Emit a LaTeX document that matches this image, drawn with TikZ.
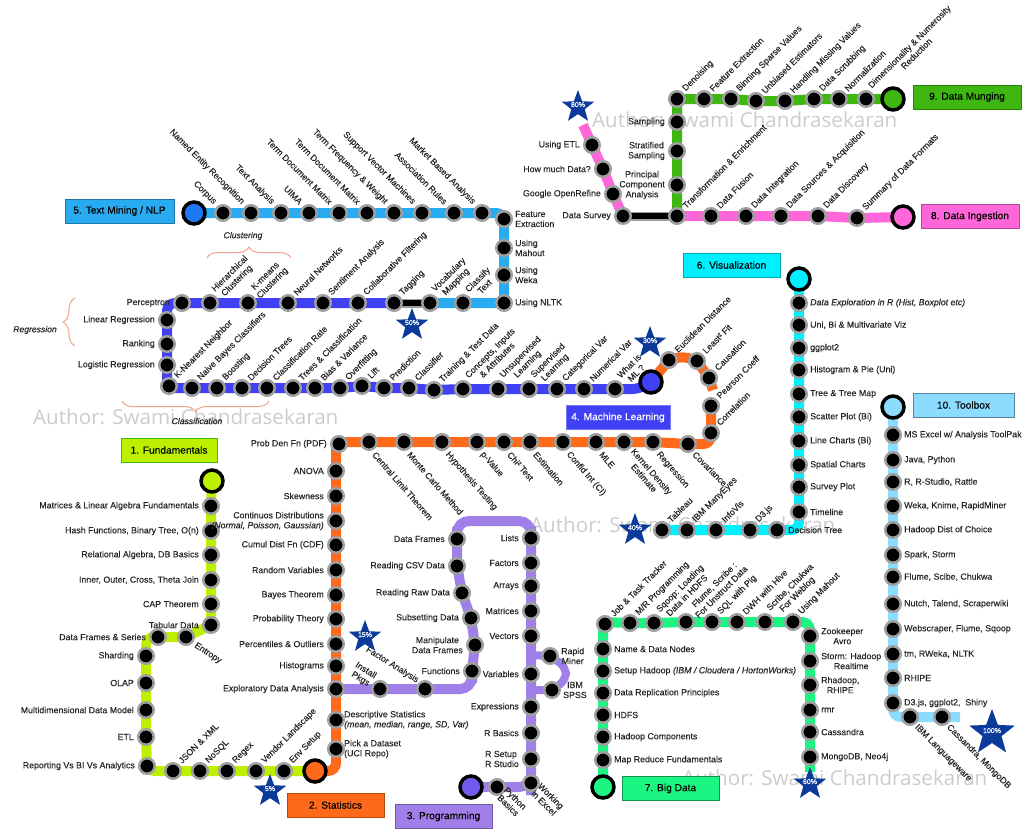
\documentclass[tikz,border=0pt]{standalone}
\usepackage{fontspec}
\setmainfont{Liberation Sans}
\newfontfamily\labfont[FakeBold=0.25]{Liberation Sans}
\newfontfamily\wmfont{Open Sans}
\usetikzlibrary{backgrounds,decorations.pathreplacing,shapes.geometric}

\definecolor{cFund}{HTML}{BDF000}
\definecolor{cStat}{HTML}{FF6A1A}
\definecolor{cProg}{HTML}{A080E8}
\definecolor{cMach}{HTML}{4040F5}
\definecolor{cText}{HTML}{29ABF2}
\definecolor{cViz}{HTML}{00F0FF}
\definecolor{cBig}{HTML}{1CF582}
\definecolor{cIng}{HTML}{FF66D9}
\definecolor{cMung}{HTML}{3FB711}
\definecolor{cTool}{HTML}{8CDCFF}
\definecolor{cBrace}{HTML}{F2A58C}
\definecolor{cStar}{HTML}{0B3A9A}

\tikzset{
  stn/.style={circle,fill=black,draw=gray!75,line width=2.5pt,minimum size=15.5pt,inner sep=0pt},
  term/.style={circle,draw=black,line width=3.5pt,minimum size=22pt,inner sep=0pt},
  metro/.style={line width=10pt,rounded corners=8pt},
  blackseg/.style={draw=black,line width=6pt,preaction={draw=gray!75,line width=9pt}},
  lab/.style={font=\labfont\fontsize{8.8}{10}\selectfont,text=black!85,inner sep=0pt},
  lblL/.style={lab,shift={(-12pt,0pt)},anchor=east,align=right},
  lblLc/.style={lab,shift={(-12pt,0pt)},anchor=east,align=center},
  lblLl/.style={lab,shift={(-12pt,0pt)},anchor=east,align=left},
  lblR/.style={lab,shift={(11pt,0pt)},anchor=west,align=left},
  lblRc/.style={lab,shift={(11pt,0pt)},anchor=west,align=center},
  lblRt/.style={lab,shift={(8pt,0pt)},anchor=west,align=left},
  upR/.style={lab,shift={(7pt,9pt)},rotate=45,anchor=west,align=center},
  upL/.style={lab,shift={(-8pt,10pt)},rotate=-45,anchor=east,align=center},
  upLs/.style={lab,shift={(-7pt,8pt)},rotate=-32,anchor=east,align=center},
  dnR/.style={lab,shift={(6pt,-9pt)},rotate=-45,anchor=west,align=center},
  dnRm/.style={lab,shift={(5pt,-5pt)},rotate=-45,anchor=west,align=center},
  dnRs/.style={lab,shift={(5pt,-11pt)},rotate=-49,anchor=west,align=center},
  dnRf/.style={lab,shift={(9pt,-8pt)},rotate=-33,anchor=west,align=center},
  stbox/.style={draw,line width=1pt,minimum height=24pt,inner sep=0pt,font=\labfont\fontsize{10.2}{12}\selectfont},
  pct/.style={star,star points=5,star point ratio=2.4,fill=cStar,inner sep=0pt,minimum size=34pt,text=white,font=\labfont\fontsize{7}{8}\selectfont},
  brc/.style={draw=cBrace,line width=1pt,decorate},
  note/.style={lab,font=\labfont\fontsize{8.6}{10}\selectfont\itshape}
}

\begin{document}
\begin{tikzpicture}[x=1pt,y=-1pt]
	\useasboundingbox (0,0) rectangle (1024,831);
	
	% End stations
	\node[term,fill=cFund] (fundT) at (212,481) {};
	\node[term,fill=cStat] (statT) at (315,771) {};
	\node[term,fill=cProg!70!blue] (progT) at (471,787) {};
	\node[term,fill=cMach] (machT) at (651,382) {};
	\node[term,fill=cText!70!blue] (textT) at (194,213) {};
	\node[term,fill=cViz] (vizT) at (799,279) {};
	\node[term,fill=cBig] (bigT) at (603,787) {};
	\node[term,fill=cIng] (ingT) at (903,217) {};
	\node[term,fill=cMung] (mungT) at (893,99) {};
	\node[term,fill=cTool] (toolT) at (893,407) {};
	
	% Line 1
	\foreach \px/\py/\sty/\txt [count=\i] in {
		211/506/lblL/{Matrices \& Linear Algebra Fundamentals},
		211/531/lblL/{Hash Functions, Binary Tree, O(n)},
		211/555/lblL/{Relational Algebra, DB Basics},
		211/580/lblL/{Inner, Outer, Cross, Theta Join},
		211/604/lblL/{CAP Theorem},
		211/625/lblL/{Tabular Data},
		186/637/dnRf/{Entropy},
		158/637/lblL/{Data Frames \& Series},
		146/656/lblL/{Sharding},
		146/683/lblL/{OLAP},
		146/710/lblL/{Multidimensional Data Model},
		146/737/lblL/{ETL},
		147/766/lblL/{Reporting Vs BI Vs Analytics},
		173/771/upR/{JSON \& XML},
		200/771/upR/{NoSQL},
		227/771/upR/{Regex},
		256/771/upR/{Vendor Landscape},
		284/771/upR/{Env Setup}} {
		\node[stn] (fund\i) at (\px,\py) {};
		\node[\sty] (fundl\i) at (fund\i) {\txt};
	}
	
	% Line 2
	\foreach \px/\py/\sty/\txt [count=\i] in {
		336/749/lblRt/{Pick a Dataset\\(UCI Repo)},
		336/720/lblRt/{Descriptive Statistics\\\textit{(mean, median, range, SD, Var)}},
		336/689/lblL/{Exploratory Data Analysis},
		336/666/lblL/{Histograms},
		336/644/lblL/{Percentiles \& Outliers},
		336/619/lblL/{Probability Theory},
		336/595/lblL/{Bayes Theorem},
		336/570/lblL/{Random Variables},
		336/545/lblL/{Cumul Dist Fn (CDF)},
		336/521/lblL/{Continuos Distributions\\\textit{(Normal, Poisson, Gaussian)}},
		336/496/lblL/{Skewness},
		336/471/lblL/{ANOVA},
		339/444/lblL/{Prob Den Fn (PDF)},
		369/442/dnRs/{Central Limit Theorem},
		404/442/dnRs/{Monte Carlo Method},
		442/442/dnRs/{Hypothesis Testing},
		477/442/dnRs/{p-Value},
		504/442/dnRs/{Chi² Test},
		530/442/dnRs/{Estimation},
		563/442/dnRs/{Confid Int (CI)},
		596/442/dnRs/{MLE},
		624/442/dnRs/{Kernel Density\\Estimate},
		653/442/dnRs/{Regression},
		688/444/dnR/{Covariance},
		711/433/upR/{Correlation},
		711/406/upR/{Pearson Coeff},
		709/378/upR/{Causation},
		697/361/upR/{Least² Fit},
		669/360/upR/{Euclidean Distance}} {
		\node[stn] (stat\i) at (\px,\py) {};
		\node[\sty] (statl\i) at (stat\i) {\txt};
	}
	
	% Line 3
	\foreach \px/\py/\sty/\txt [count=\i] in {
		497/787/dnRm/{Python\\Basics},
		531/783/dnRm/{Working\\in Excel},
		531/759/lblLl/{R Setup\\R Studio},
		531/733/lblL/{R Basics},
		531/707/lblL/{Expressions},
		531/674/lblL/{Variables},
		531/636/lblL/{Vectors},
		531/611/lblL/{Matrices},
		531/586/lblL/{Arrays},
		531/563/lblL/{Factors},
		531/538/lblL/{Lists},
		457/539/lblL/{Data Frames},
		457/566/lblL/{Reading CSV Data},
		462/593/lblL/{Reading Raw Data},
		471/618/lblL/{Subsetting Data},
		475/645/lblLc/{Manipulate\\Data Frames},
		472/671/lblL/{Functions},
		425/689/upLs/{Factor Analysis},
		380/689/upLs/{Install\\Pkgs},
		550/656/lblRc/{Rapid\\Miner},
		552/690/lblRc/{IBM\\SPSS}} {
		\node[stn] (prog\i) at (\px,\py) {};
		\node[\sty] (progl\i) at (prog\i) {\txt};
	}
	
	% Line 5
	\foreach \px/\py/\sty/\txt [count=\i] in {
		223/213/upL/{Corpus},
		251/213/upL/{Named Entity Recognition},
		281/213/upL/{Text Analysis},
		309/213/upL/{UIMA},
		339/213/upL/{Term Document Matrix},
		367/213/upL/{Term Document Matrix},
		394/213/upL/{Term Frequency \& Weight},
		422/213/upL/{Support Vector Machines},
		454/213/upL/{Association Rules},
		482/213/upL/{Market Based Analysis},
		504/219/lblR/{Feature\\Extraction},
		504/248/lblR/{Using\\Mahout},
		504/275/lblR/{Using\\Weka},
		504/303/lblR/{Using NLTK},
		463/303/upR/{Classify\\Text},
		430/303/upR/{Vocabulary\\Mapping}} {
		\node[stn] (text\i) at (\px,\py) {};
		\node[\sty] (textl\i) at (text\i) {\txt};
	}
	
	% Line 4
	\foreach \px/\py/\sty/\txt [count=\i] in {
		394/303/upR/{Tagging},
		358/303/upR/{Collaborative Filtering},
		323/303/upR/{Sentiment Analysis},
		288/303/upR/{Neural Networks},
		248/303/upR/{K-means\\Clustering},
		210/303/upR/{Hierarchical\\Clustering},
		182/303/lblL/{Perceptron},
		167/320/lblL/{Linear Regression},
		167/344/lblL/{Ranking},
		167/365/lblL/{Logistic Regression},
		169/386/upR/{K-Nearest Neighbor},
		192/388/upR/{Naive Bayes Classifiers},
		217/388/upR/{Boosting},
		242/388/upR/{Decision Trees},
		267/388/upR/{Classification Rate},
		293/388/upR/{Trees \& Classification},
		315/388/upR/{Bias \& Variance},
		340/388/upR/{Overfitting},
		362/386/upR/{Lift},
		384/388/upR/{Prediction},
		409/388/upR/{Classifier},
		434/390/upR/{Training \& Test Data},
		463/389/upR/{Concepts, Inputs\\\& Attributes},
		498/389/upR/{Unsupervised\\Learning},
		529/389/upR/{Supervised\\Learning},
		557/389/upR/{Categorical Var},
		584/389/upR/{Numerical Var},
		615/389/upR/{What is\\ML ?}} {
		\node[stn] (mach\i) at (\px,\py) {};
		\node[\sty] (machl\i) at (mach\i) {\txt};
	}
	
	% Line 6
	\foreach \px/\py/\sty/\txt [count=\i] in {
		799/303/lblR/{\textit{Data Exploration in R (Hist, Boxplot etc)}},
		799/325/lblR/{Uni, Bi \& Multivariate Viz},
		799/348/lblR/{ggplot2},
		799/370/lblR/{Histogram \& Pie (Uni)},
		799/394/lblR/{Tree \& Tree Map},
		799/417/lblR/{Scatter Plot (Bi)},
		799/441/lblR/{Line Charts (Bi)},
		799/465/lblR/{Spatial Charts},
		799/487/lblR/{Survey Plot},
		799/512/lblR/{Timeline},
		777/530/lblR/{Decision Tree},
		750/530/upR/{D3.js},
		716/530/upR/{InfoVis},
		687/530/upR/{IBM ManyEyes},
		662/530/upR/{Tableau}} {
		\node[stn] (viz\i) at (\px,\py) {};
		\node[\sty] (vizl\i) at (viz\i) {\txt};
	}
	
	% Line 7
	\foreach \px/\py/\sty/\txt [count=\i] in {
		603/760/lblR/{Map Reduce Fundamentals},
		603/737/lblR/{Hadoop Components},
		603/715/lblR/{HDFS},
		603/693/lblR/{Data Replication Principles},
		603/671/lblR/{Setup Hadoop \textit{(IBM / Cloudera / HortonWorks)}},
		603/649/lblR/{Name \& Data Nodes},
		605/624/upR/{Job \& Task Tracker},
		630/623/upR/{M/R Programming},
		654/623/upR/{Sqoop: Loading\\Data in HDFS},
		686/622/upR/{Flume, Scribe :\\For Unstruct Data},
		712/622/upR/{SQL with Pig},
		737/622/upR/{DWH with Hive},
		765/622/upR/{Scribe, Chukwa\\For Weblog},
		793/622/upR/{Using Mahout},
		810/636/lblRc/{Zookeeper\\Avro},
		810/661/lblRc/{Storm: Hadoop\\Realtime},
		810/685/lblRc/{Rhadoop,\\RHIPE},
		810/710/lblR/{rmr},
		810/732/lblR/{Cassandra},
		810/757/lblR/{MongoDB, Neo4j}} {
		\node[stn] (big\i) at (\px,\py) {};
		\node[\sty] (bigl\i) at (big\i) {\txt};
	}
	
	% Line 8
	\foreach \px/\py/\sty/\txt [count=\i] in {
		592/145/lblL/{Using ETL},
		603/169/lblL/{How much Data?},
		613/194/lblL/{Google OpenRefine},
		623/216/lblL/{Data Survey},
		677/216/upR/{Transformation \& Enrichment},
		711/216/upR/{Data Fusion},
		746/216/upR/{Data Integration},
		781/216/upR/{Data Sources \& Acquisition},
		818/216/upR/{Data Discovery},
		857/218/upR/{Summary of Data Formats}} {
		\node[stn] (ing\i) at (\px,\py) {};
		\node[\sty] (ingl\i) at (ing\i) {\txt};
	}
	
	% Line 9
	\foreach \px/\py/\sty/\txt [count=\i] in {
		677/185/lblLc/{Principal\\Component\\Analysis},
		677/151/lblLc/{Stratified\\Sampling},
		677/122/lblL/{Sampling},
		677/99/upR/{Denoising},
		704/99/upR/{Feature Extraction},
		731/99/upR/{Binning Sparse Values},
		756/101/upR/{Unbiased Estimators},
		785/101/upR/{Handling Missing Values},
		814/99/upR/{Data Scrubbing},
		839/99/upR/{Normalization},
		866/99/upR/{Dimensionality \& Numerosity\\Reduction}} {
		\node[stn] (mung\i) at (\px,\py) {};
		\node[\sty] (mungl\i) at (mung\i) {\txt};
	}
	
	% Line 10
	\foreach \px/\py/\sty/\txt [count=\i] in {
		893/435/lblR/{MS Excel w/ Analysis ToolPak},
		893/460/lblR/{Java, Python},
		893/482/lblR/{R, R-Studio, Rattle},
		893/506/lblR/{Weka, Knime, RapidMiner},
		893/530/lblR/{Hadoop Dist of Choice},
		893/555/lblR/{Spark, Storm},
		893/577/lblR/{Flume, Scibe, Chukwa},
		893/604/lblR/{Nutch, Talend, Scraperwiki},
		893/629/lblR/{Webscraper, Flume, Sqoop},
		893/654/lblR/{tm, RWeka, NLTK},
		893/678/lblR/{RHIPE},
		893/703/lblR/{D3.js, ggplot2,~~Shiny},
		910/717/dnR/{IBM Languageware},
		942/717/dnR/{Cassandra, MongoDB}} {
		\node[stn] (tool\i) at (\px,\py) {};
		\node[\sty] (tooll\i) at (tool\i) {\txt};
	}
	
	% Corners and free ends of the lines
	\coordinate (fundA) at (146,637);
	\coordinate (fundB) at (147,771);
	\coordinate (statA) at (336,771);
	\coordinate (statB) at (336,442);
	\coordinate (statC) at (711,444);
	\coordinate (statD) at (713,390);
	\coordinate (statE) at (683,356);
	\coordinate (progA) at (531,787);
	\coordinate (progB) at (531,521);
	\coordinate (progC) at (457,521);
	\coordinate (progD) at (472,689);
	\coordinate (progE) at (531,655);
	\coordinate (progF) at (566,667);
	\coordinate (progG) at (566,680);
	\coordinate (progH) at (531,690);
	\coordinate (textA) at (504,213);
	\coordinate (machA) at (167,303);
	\coordinate (machB) at (167,388);
	\coordinate (machC) at (640,389);
	\coordinate (vizA) at (799,530);
	\coordinate (bigA) at (603,622);
	\coordinate (bigB) at (810,622);
	\coordinate (bigC) at (810,772);
	\coordinate (ingA) at (583,125);
	\coordinate (toolA) at (893,717);
	\coordinate (toolB) at (960,717);
	
	\begin{scope}[on background layer]
		% Watermarks
		\foreach \px/\py [count=\i] in {592/120,33/417,530/525,682/778} {
			\node[anchor=west,inner sep=0pt,text=black!20,font=\wmfont\fontsize{20.6}{22}\selectfont] (mark\i) at (\px,\py) {Author: Swami Chandrasekaran};
		}
		
		% Lines
		\draw[metro,cFund] (fundT.center) foreach \i in {1,...,8} { -- (fund\i.center) } -- (fundA) foreach \i in {9,...,13} { -- (fund\i.center) } -- (fundB) foreach \i in {14,...,18} { -- (fund\i.center) } -- (statT.center);
		\draw[metro,cStat] (statT.center) -- (statA) foreach \i in {1,...,12} { -- (stat\i.center) } -- (statB) foreach \i in {14,...,24} { -- (stat\i.center) } -- (statC) -- (stat25.center) -- (stat26.center);
		\draw[metro,cStat] (machT.center) -- (stat29.center) -- (statE) -- (stat28.center) -- (stat27.center) -- (statD);
		\draw[metro,cProg,rounded corners=12pt] (progT.center) -- (prog1.center) -- (progA) foreach \i in {2,...,11} { -- (prog\i.center) } -- (progB) -- (progC) -- (prog12.center) -- (prog13.center) -- (prog14.center) -- (prog15.center) -- (prog16.center) -- (prog17.center) -- (progD) -- (prog18.center) -- (prog19.center) -- (stat3.center);
		\draw[metro,cProg,line width=8pt] (progE) -- (prog20.center) -- (progF) -- (progG) -- (prog21.center) -- (progH);
		\draw[metro,cText] (textT.center) foreach \i in {1,...,10} { -- (text\i.center) } -- (textA) foreach \i in {11,...,16} { -- (text\i.center) };
		\draw[blackseg] (text16.center) -- (mach1.center);
		\draw[metro,cMach] (mach1.center) foreach \i in {2,...,7} { -- (mach\i.center) } -- (machA) foreach \i in {8,9,10} { -- (mach\i.center) } -- (machB) foreach \i in {12,...,28} { -- (mach\i.center) } -- (machC) -- (machT.center);
		\draw[metro,cViz] (vizT.center) foreach \i in {1,...,10} { -- (viz\i.center) } -- (vizA) foreach \i in {11,...,15} { -- (viz\i.center) };
		\draw[metro,cBig] (bigT.center) foreach \i in {1,...,6} { -- (big\i.center) } -- (bigA) foreach \i in {8,...,14} { -- (big\i.center) } -- (bigB) foreach \i in {15,...,20} { -- (big\i.center) } -- (bigC);
		\draw[metro,cIng] (ingA) foreach \i in {1,2,3,4} { -- (ing\i.center) };
		\draw[blackseg] (ing4.center) -- (ing5.center);
		\draw[metro,cIng] (ing5.center) foreach \i in {6,...,10} { -- (ing\i.center) } -- (ingT.center);
		\draw[metro,cMung] (ing5.center) foreach \i in {1,...,11} { -- (mung\i.center) } -- (mungT.center);
		\draw[metro,cTool] (toolT.center) foreach \i in {1,...,12} { -- (tool\i.center) } -- (toolA) -- (tool13.center) -- (tool14.center) -- (toolB);
	\end{scope}
	
	% Stars
	\foreach \px/\py/\txt [count=\i] in {270/791/5,365/637/15,412/325/50,650/343/30,635/530/40,578/107/80,810/784/60} {
		\node[pct] (star\i) at (\px,\py) {\makebox[0pt]{\smash{\txt\%}}};
	}
	\node[pct,minimum size=48pt] (star8) at (992,733) {\makebox[0pt]{\smash{100\%}}};
	
	% Station boxes
	\node[stbox,fill=cFund,draw=cMung,minimum width=96pt] (fundbox) at (169,450) {1. Fundamentals};
	\node[stbox,fill=cStat,draw=cStat!70!black,minimum width=97pt] (statbox) at (335.5,805) {2. Statistics};
	\node[stbox,fill=cProg,draw=cProg!70!black,minimum width=97pt] (progbox) at (443.5,816.5) {3. Programming};
	\node[stbox,fill=cMach,draw=cMach!70!white,minimum width=104pt,text=white] (machbox) at (618,417.5) {4. Machine Learning};
	\node[stbox,fill=cText,draw=cText!70!black,minimum width=109pt] (textbox) at (119.5,211) {5. Text Mining / NLP};
	\node[stbox,fill=cViz,draw=cViz!70!black,minimum width=97pt] (vizbox) at (731.5,265) {6. Visualization};
	\node[stbox,fill=cBig,draw=cBig!60!black,minimum width=97pt] (bigbox) at (670.5,788.5) {7. Big Data};
	\node[stbox,fill=cIng,draw=cIng!70!black,minimum width=98pt] (ingbox) at (970,216.5) {8. Data Ingestion};
	\node[stbox,fill=cMung,draw=cMung!70!black,minimum width=108pt] (mungbox) at (967,97) {9. Data Munging};
	\node[stbox,fill=cTool,draw=cTool!60!black,minimum width=101pt] (toolbox) at (963.5,405) {10. Toolbox};
	
	% Braces
	\coordinate (cluL) at (207,258);
	\coordinate (cluR) at (291,258);
	\coordinate (regT) at (75,298);
	\coordinate (regB) at (75,346);
	\coordinate (claL) at (122,401);
	\coordinate (claR) at (269,401);
	\draw[brc,decoration={brace,amplitude=11pt}] (cluL) -- (cluR);
	\draw[brc,decoration={brace,amplitude=12pt}] (regB) -- (regT);
	\draw[brc,decoration={brace,amplitude=11pt}] (claR) -- (claL);
	\node[note] (clunote) at (243,236) {Clustering};
	\node[note] (regnote) at (35,330) {Regression};
	\node[note] (clanote) at (197,421) {Classification};
\end{tikzpicture}
\end{document}
